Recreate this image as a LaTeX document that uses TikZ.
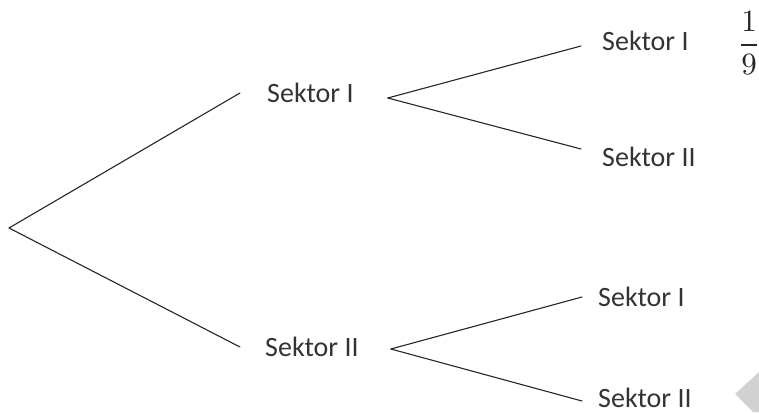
\documentclass[tikz,border=0pt]{standalone}
\usepackage{fontspec}
\newfontfamily\sekfont{Carlito}
\usetikzlibrary{calc}

\begin{document}
\begin{tikzpicture}[x=1pt,y=-1pt,
  sektor/.style={font=\sekfont\fontsize{28}{30}\selectfont, text=black!80,
    inner sep=0pt, text height=18pt, text depth=0pt, anchor=west},
  ast/.style={line width=1.1pt, black!85, line cap=round}]
%
\def\gin{27};
\def\gout{34};
\def\gend{21};
%
\useasboundingbox (0,0) rectangle (759,412);
%
\coordinate (root) at (9,228);
%
\node[sektor] (s1) at (267,93) {Sektor I};
\node[sektor] (s2) at (265,347) {Sektor II};
\node[sektor] (s11) at (602,42) {Sektor I};
\node[sektor] (s12) at (602,157) {Sektor II};
\node[sektor] (s21) at (598,297) {Sektor I};
\node[sektor] (s22) at (598,398) {Sektor II};
%
\node[inner sep=0pt, text=black!85] (p11) at (749,43) {\scalebox{3.1}{$\displaystyle\frac{1}{9}$}};
%
\draw[ast] (root)--($(s1.west)+(-\gin,0)$);
\draw[ast] (root)--($(s2.west)+(-\gin+2,0)$);
%
\draw[ast] ($(s1.east)+(\gout,5)$)--($(s11.west)+(-\gend,4)$);
\draw[ast] ($(s1.east)+(\gout,5)$)--($(s12.west)+(-\gend,-8)$);
\draw[ast] ($(s2.east)+(\gout-2,2)$)--($(s21.west)+(-\gend+5,0)$);
\draw[ast] ($(s2.east)+(\gout-2,2)$)--($(s22.west)+(-\gend+5,3)$);
%
\fill[black!18] (735,394)--(759,372)--(759,412)--(753,412)--cycle;
%
\end{tikzpicture}
\end{document}
